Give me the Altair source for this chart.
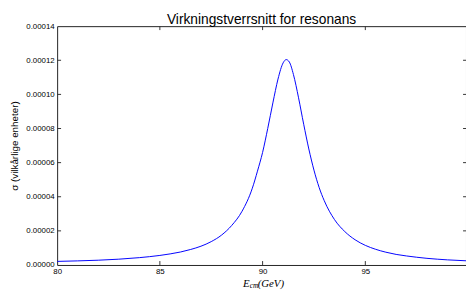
import altair as alt
import pandas as pd

# Energy (GeV) and cross section
energy = [80, 81, 82, 83, 84, 85, 85.5, 86, 86.5, 87, 87.5, 88, 88.5, 89, 89.5,
          89.75, 90, 90.25, 90.5, 90.75, 91.0, 91.15, 91.3, 91.5, 91.75, 92.0,
          92.25, 92.5, 92.75, 93.0, 93.5, 94.0, 94.5, 95.0, 95.5, 96.0, 96.5,
          97.0, 98.0, 99.0, 100.0]
sigma_e6 = [2.1, 2.4, 2.8, 3.4, 4.3, 5.6, 6.5, 7.6, 9.1, 11.0, 13.7, 17.5, 23.2,
            31.5, 45.0, 55.0, 66.0, 80.0, 95.0, 109.0, 118.5, 120.4, 119.0,
            111.7, 98.0, 82.5, 68.0, 55.6, 45.5, 37.7, 26.6, 19.6, 14.8, 11.5,
            9.2, 7.5, 6.2, 5.3, 3.9, 3.0, 2.4]
sigma = [v * 1e-6 for v in sigma_e6]

x_ticks = [80, 85, 90, 95]
y_ticks = [0.0, 0.00002, 0.00004, 0.00006, 0.00008, 0.00010, 0.00012, 0.00014]

W, H = 416, 243
FONT = "Liberation Sans"
XDOM = [80, 99.9]
YDOM = [0, 0.00014]

df = pd.DataFrame({"E": energy, "sigma": sigma})
df_yt = pd.DataFrame({"sigma": y_ticks[1:-1]})
df_xt = pd.DataFrame({"E": x_ticks[1:]})
one = pd.DataFrame({"a": [0]})

xs = alt.Scale(domain=XDOM, nice=False, zero=False)
ys = alt.Scale(domain=YDOM, nice=False)

xaxis = alt.Axis(values=x_ticks, format="d", title=None, ticks=False, domain=False,
                 grid=False, labelFont=FONT, labelFontSize=8, labelColor="black",
                 labelPadding=3, labelFlush=False)
yaxis = alt.Axis(values=y_ticks, format=".5f", ticks=False, domain=False, grid=False,
                 labelFont=FONT, labelFontSize=8, labelColor="black", labelPadding=3,
                 labelFlush=False,
                 title="σ (vilkårlige enheter)", titleFont=FONT, titleFontSize=10,
                 titleFontWeight="normal", titleColor="black", titlePadding=6)

curve = alt.Chart(df).mark_line(color="blue", strokeWidth=1, interpolate="monotone", clip=True).encode(
    x=alt.X("E:Q", scale=xs, axis=xaxis),
    y=alt.Y("sigma:Q", scale=ys, axis=yaxis),
)

tick_color = "#333"
left_ticks = alt.Chart(df_yt).mark_rule(color=tick_color, strokeWidth=1).encode(
    y=alt.Y("sigma:Q", scale=ys, axis=yaxis), x=alt.value(0), x2=alt.value(4))
right_ticks = alt.Chart(df_yt).mark_rule(color=tick_color, strokeWidth=1).encode(
    y=alt.Y("sigma:Q", scale=ys, axis=yaxis), x=alt.value(W - 3), x2=alt.value(W))
top_ticks = alt.Chart(df_xt).mark_rule(color=tick_color, strokeWidth=1).encode(
    x=alt.X("E:Q", scale=xs, axis=xaxis), y=alt.value(0), y2=alt.value(4))
bottom_ticks = alt.Chart(df_xt).mark_rule(color=tick_color, strokeWidth=1).encode(
    x=alt.X("E:Q", scale=xs, axis=xaxis), y=alt.value(H - 4), y2=alt.value(H))

def txt(s, x, y, size, style="italic"):
    return alt.Chart(one).mark_text(font="Liberation Serif", fontSize=size, fontStyle=style,
                                    align="left", baseline="alphabetic", color="black").encode(
        x=alt.value(x), y=alt.value(y), text=alt.value(s))

xt1 = txt("E", 189, 265, 11)
xt2 = txt("cm", 196, 266.5, 7.5)
xt3 = txt("(GeV)", 204, 265, 11)

chart = alt.layer(curve, left_ticks, right_ticks, top_ticks, bottom_ticks, xt1, xt2, xt3).properties(
    width=W, height=H,
    title=alt.TitleParams(text="Virkningstverrsnitt for resonans", font=FONT, fontSize=14,
                          fontWeight="normal", color="black", anchor="middle", offset=2, dy=7),
    autosize=alt.AutoSizeParams(type="none"),
    padding={"left": 50, "top": 16, "right": 0, "bottom": 24},
).configure_view(stroke="#222", strokeWidth=1)

chart.save("out.html", embed_options={"renderer": "svg", "actions": False})
